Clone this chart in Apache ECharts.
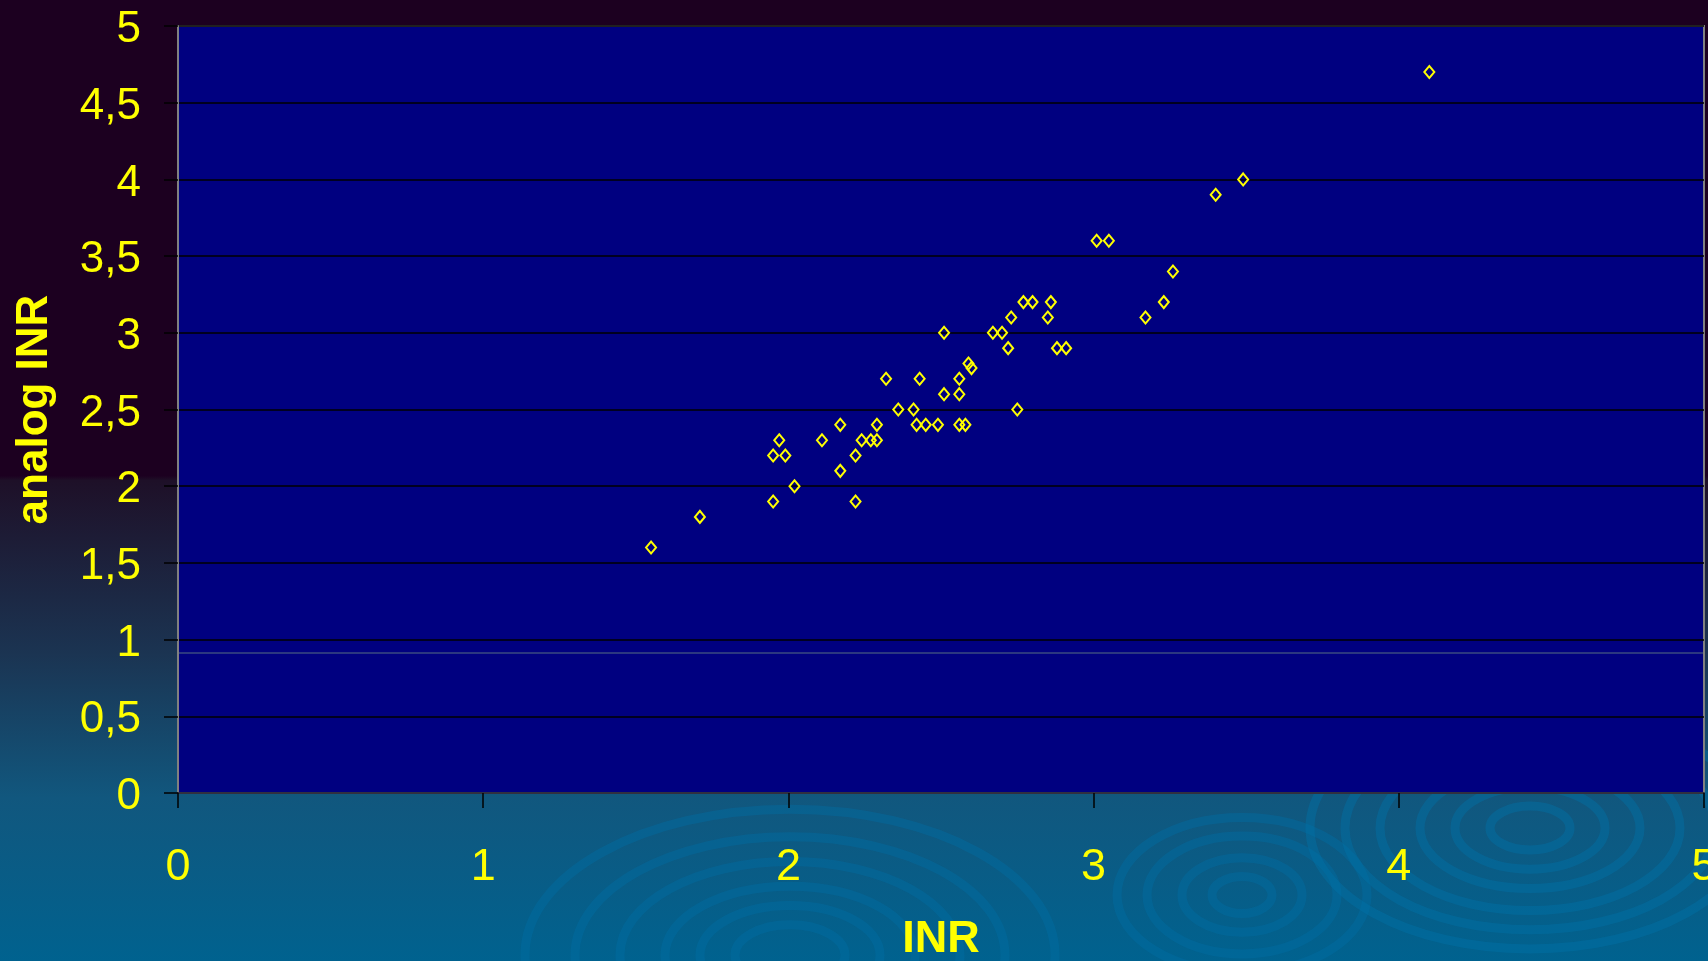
<!DOCTYPE html>
<html>
<head>
<meta charset="utf-8">
<script src="https://cdn.jsdelivr.net/npm/echarts/dist/echarts.min.js"></script>
<style>
html,body{margin:0;padding:0;width:1708px;height:961px;overflow:hidden;}
#c{width:1708px;height:961px;}
</style>
</head>
<body>
<div id="c"></div>
<script>
// Data
const inrValues = [1.55,1.71,1.95,2.22,2.02,2.17,1.95,1.99,2.22,1.97,2.11,2.24,2.27,2.29,2.17,2.29,2.42,2.45,2.49,2.56,2.58,2.36,2.41,2.75,2.51,2.56,2.32,2.43,2.56,2.59,2.60,2.72,2.88,2.91,2.51,2.67,2.70,2.73,2.85,3.17,2.77,2.80,2.86,3.23,3.26,3.01,3.05,3.40,3.49,4.10];
const analogValues = [1.6,1.8,1.9,1.9,2.0,2.1,2.2,2.2,2.2,2.3,2.3,2.3,2.3,2.3,2.4,2.4,2.4,2.4,2.4,2.4,2.4,2.5,2.5,2.5,2.6,2.6,2.7,2.7,2.7,2.8,2.77,2.9,2.9,2.9,3.0,3.0,3.0,3.1,3.1,3.1,3.2,3.2,3.2,3.2,3.4,3.6,3.6,3.9,4.0,4.7];
const xTitle = 'INR';
const yTitle = 'analog INR';

const points = inrValues.map((x, i) => [x, analogValues[i]]);
const FONT = '"Liberation Sans", Arial, sans-serif';

function rings(cx, cy, radii, ratio, color, width) {
  return radii.map(r => ({
    type: 'ellipse', z: -10, silent: true,
    shape: { cx: cx, cy: cy, rx: r, ry: r * ratio },
    style: { fill: 'none', stroke: color, lineWidth: width }
  }));
}

const deco = [].concat(
  rings(790, 955, [55, 90, 125, 170, 215, 265], 0.55, 'rgba(0,110,165,0.42)', 9),
  rings(1242, 895, [30, 60, 95, 125], 0.62, 'rgba(0,110,165,0.42)', 9),
  rings(1530, 828, [40, 75, 110, 150, 185, 220], 0.55, 'rgba(0,115,170,0.42)', 9),
  [{
    type: 'line', z: 100, silent: true,
    shape: { x1: 179, y1: 653, x2: 1703, y2: 653 },
    style: { stroke: '#3a4a80', lineWidth: 1.5 }
  }]
);

const chart = echarts.init(document.getElementById('c'), null, { renderer: 'canvas' });
chart.setOption({
  animation: false,
  backgroundColor: {
    type: 'linear', x: 0, y: 0, x2: 0, y2: 1,
    colorStops: [
      { offset: 0, color: '#1c0020' },
      { offset: 0.495, color: '#1c0020' },
      { offset: 0.5, color: '#1e1028' },
      { offset: 0.68, color: '#1b3452' },
      { offset: 0.83, color: '#11577e' },
      { offset: 1, color: '#00628f' }
    ]
  },
  graphic: deco,
  grid: {
    left: 178, right: 4, top: 26, bottom: 168,
    containLabel: false,
    outerBoundsMode: 'none',
    show: true, backgroundColor: '#000080',
    borderColor: '#808080', borderWidth: 2
  },
  xAxis: {
    type: 'value', min: 0, max: 5, interval: 1,
    name: xTitle, nameLocation: 'middle', nameGap: 124,
    nameTextStyle: { color: '#ffff00', fontFamily: FONT, fontWeight: 'bold', fontSize: 45 },
    axisLine: { show: true, onZero: false, lineStyle: { color: '#303040', width: 2 } },
    axisTick: { show: true, inside: false, length: 15, lineStyle: { color: '#000000', width: 1.5 } },
    axisLabel: { color: '#ffff00', fontFamily: FONT, fontSize: 45, margin: 52, hideOverlap: false },
    splitLine: { show: false }
  },
  yAxis: {
    type: 'value', min: 0, max: 5, interval: 0.5,
    name: yTitle, nameLocation: 'middle', nameGap: 121, nameRotate: 90,
    nameTextStyle: { color: '#ffff00', fontFamily: FONT, fontWeight: 'bold', fontSize: 44 },
    axisLine: { show: true, lineStyle: { color: '#808080', width: 2 } },
    axisTick: { show: true, inside: false, length: 14, lineStyle: { color: '#000000', width: 1.5 } },
    axisLabel: { color: '#ffff00', fontFamily: FONT, fontSize: 44, margin: 37,
      verticalAlign: 'top', lineHeight: 44, padding: [-18, 0, 0, 0],
      formatter: v => String(v).replace('.', ',') },
    splitLine: { show: true, lineStyle: { color: '#000000', width: 1.5 } }
  },
  series: [{
    type: 'scatter',
    data: points,
    symbol: 'diamond',
    symbolSize: [10, 12],
    itemStyle: { color: 'rgba(0,0,0,0)', borderColor: '#ffff00', borderWidth: 2, opacity: 1 },
    z: 5
  }]
});
</script>
</body>
</html>
